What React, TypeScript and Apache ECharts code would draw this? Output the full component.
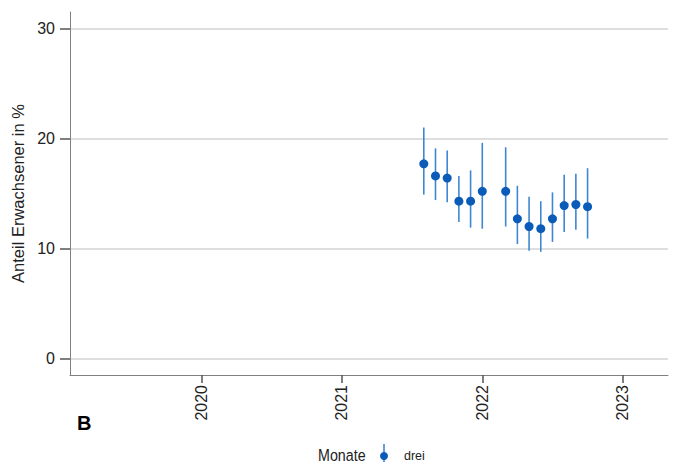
import React, { useEffect, useRef } from "react";
import * as echarts from "echarts";

const months = ["2021-08", "2021-09", "2021-10", "2021-11", "2021-12", "2022-01", "2022-03", "2022-04", "2022-05", "2022-06", "2022-07", "2022-08", "2022-09", "2022-10"];
const values = [17.7, 16.6, 16.4, 14.3, 14.3, 15.2, 15.2, 12.7, 12.0, 11.8, 12.7, 13.9, 14.0, 13.8];
const lower = [14.9, 14.4, 14.2, 12.4, 11.9, 11.8, 12.0, 10.4, 9.8, 9.7, 10.6, 11.5, 11.7, 10.9];
const upper = [21.0, 19.1, 18.9, 16.6, 17.1, 19.6, 19.2, 15.7, 14.7, 14.3, 15.1, 16.7, 16.8, 17.3];
const yearTicks = [2020, 2021, 2022, 2023];
const yTicks = [0, 10, 20, 30];

// month string -> decimal year
const dy = (s: string) => {
  const [y, m] = s.split("-").map(Number);
  return y + (m - 1) / 12;
};

export default function App() {
  const ref = useRef<HTMLDivElement>(null);
  useEffect(() => {
    document.body.style.margin = "0";
    const chart = echarts.init(ref.current!, undefined, { renderer: "svg" });
    const font = "'Liberation Sans', Arial, sans-serif";
    const pointColor = "#0a5cb8";
    const barColor = "#3f86d2";
    chart.setOption({
      animation: false,
      backgroundColor: "#ffffff",
      grid: { left: 70, right: 9, top: 12, bottom: 88 },
      xAxis: {
        type: "value",
        min: 2019.063,
        max: 2023.323,
        axisLine: { show: true, onZero: false, lineStyle: { color: "#808080", width: 1 } },
        axisTick: { show: true, length: 8, customValues: yearTicks, lineStyle: { color: "#555555", width: 1.5 } },
        axisLabel: {
          customValues: yearTicks,
          rotate: 90,
          margin: 10,
          color: "#222222",
          fontSize: 16,
          fontFamily: font,
          formatter: (v: number) => String(Math.round(v)),
        },
        splitLine: { show: false },
      },
      yAxis: {
        type: "value",
        min: -1.5,
        max: 31.5,
        name: "Anteil Erwachsener in %",
        nameLocation: "middle",
        nameGap: 37,
        nameTextStyle: { fontSize: 16.5, fontFamily: font, color: "#222222" },
        axisLine: { show: true, onZero: false, lineStyle: { color: "#808080", width: 1 } },
        axisTick: { show: true, length: 10, customValues: yTicks, lineStyle: { color: "#555555", width: 1.5 } },
        axisLabel: { customValues: yTicks, margin: 15, color: "#222222", fontSize: 16, fontFamily: font },
        splitLine: { show: true, customValues: yTicks, lineStyle: { color: "#dedede", width: 2 } },
      },
      legend: {
        left: 380,
        top: 449,
        padding: 0,
        itemWidth: 8,
        itemHeight: 8,
        itemGap: 12,
        data: [{ name: "drei", icon: "circle" }],
        textStyle: { fontSize: 12.5, fontFamily: font, color: "#222222", lineHeight: 14, padding: [0, 0, 0, 11] },
      },
      graphic: [
        { type: "line", z: 0, shape: { x1: 384, y1: 444, x2: 384, y2: 462 }, style: { stroke: barColor, lineWidth: 1.6 } },
        { type: "text", x: 318, y: 455, scaleX: 0.84, style: { text: "Monate", fontSize: 17, lineHeight: 16, verticalAlign: "middle", fontFamily: font, fill: "#222222" } },
        { type: "text", left: 77, top: 413, style: { text: "B", fontSize: 20, fontWeight: "bold", fontFamily: font, fill: "#000000" } },
      ],
      series: [
        {
          type: "custom",
          name: "ci",
          data: months.map((m, i) => [dy(m), lower[i], upper[i]]),
          encode: { x: 0, y: [1, 2] },
          renderItem: (params: any, api: any) => {
            const a = api.coord([api.value(0), api.value(1)]);
            const b = api.coord([api.value(0), api.value(2)]);
            return {
              type: "line",
              shape: { x1: a[0], y1: a[1], x2: b[0], y2: b[1] },
              style: { stroke: barColor, lineWidth: 1.6 },
            };
          },
          z: 2,
        },
        {
          type: "scatter",
          name: "drei",
          data: months.map((m, i) => [dy(m), values[i]]),
          symbol: "circle",
          symbolSize: 9,
          itemStyle: { color: pointColor, opacity: 1 },
          z: 3,
        },
      ],
    });
    return () => chart.dispose();
  }, []);
  return <div ref={ref} style={{ width: 677, height: 463 }} />;
}
